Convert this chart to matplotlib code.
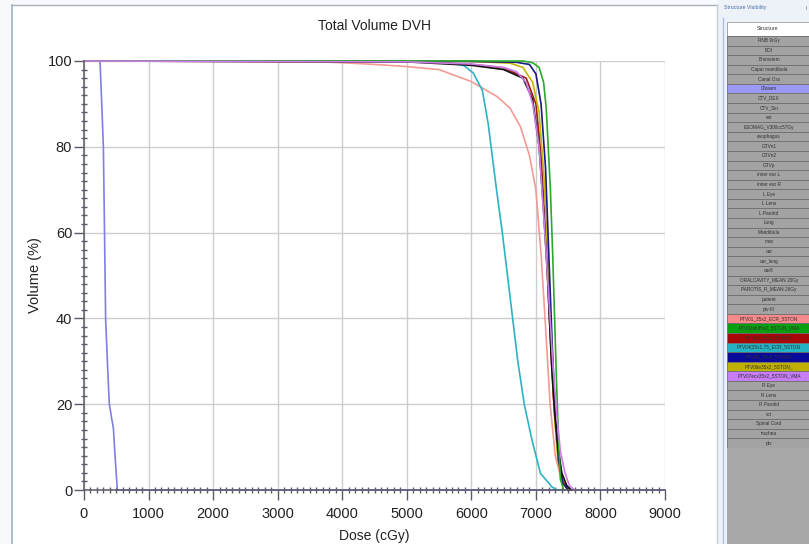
import matplotlib
matplotlib.use("Agg")
import matplotlib.pyplot as plt
from matplotlib.ticker import MultipleLocator
from matplotlib.patches import Rectangle

plt.rcParams['font.family'] = ['Liberation Sans', 'DejaVu Sans']

# ---------------- data ----------------
chiasm_dose = [0, 248, 275, 300, 318, 335, 365, 392, 415, 430, 455, 485, 517, 9000]
chiasm_vol = [100, 100, 90, 80, 60, 40, 29, 20, 18, 16.5, 14.5, 7, 0, 0]

salmon_dose = [0, 3500, 4000, 4500, 5000, 5500, 6000, 6400, 6600, 6760, 6900, 7000, 7080, 7150, 7220, 7300, 7400, 7500]
salmon_vol = [100, 99.9, 99.6, 99.2, 98.7, 98.0, 95.2, 91.7, 89.0, 84.7, 78, 70, 55, 38, 20, 8, 2, 0]

cyan_dose = [0, 5500, 5880, 6030, 6170, 6260, 6390, 6480, 6560, 6640, 6720, 6820, 6940, 7070, 7250, 7330]
cyan_vol = [100, 99.9, 99.0, 97.2, 93.2, 85.5, 70, 60, 50, 40, 30, 20, 11.6, 3.9, 0.7, 0]

black_dose = [0, 5000, 6000, 6500, 6800, 6950, 7050, 7120, 7180, 7240, 7290, 7330, 7400, 7480, 7550]
black_vol = [100, 99.8, 99.0, 98.0, 96, 91, 80, 65, 50, 30, 18, 11.6, 4, 1, 0]

darkred_dose = [0, 5200, 6000, 6500, 6850, 7000, 7080, 7150, 7210, 7270, 7330, 7420, 7520]
darkred_vol = [100, 99.8, 99.2, 98.4, 96, 90, 78, 60, 40, 22, 10, 2, 0]

navy_dose = [0, 6000, 6700, 6900, 7000, 7080, 7150, 7200, 7250, 7300, 7350, 7420, 7500]
navy_vol = [100, 99.9, 99.7, 99.2, 97, 90, 75, 55, 35, 18, 7, 1.5, 0]

olive_dose = [0, 6000, 6600, 6800, 6950, 7050, 7130, 7190, 7240, 7290, 7340, 7420, 7500]
olive_vol = [100, 99.9, 99.5, 98.5, 95, 88, 72, 52, 33, 17, 7, 1.5, 0]

green_dose = [0, 6800, 6950, 7050, 7120, 7160, 7225, 7260, 7290, 7320, 7350, 7380, 7430]
green_vol = [100, 100, 99.6, 98.5, 95, 89, 70, 55, 40, 25, 12, 2.5, 0]

violet_dose = [0, 5000, 6000, 6500, 6700, 6850, 6950, 7050, 7130, 7200, 7260, 7320, 7380, 7450, 7520, 7600]
violet_vol = [100, 99.8, 99.3, 98.5, 97.5, 95, 90, 80, 62, 45, 30, 18, 9, 4, 1, 0]

structures = ["RNB 9rGy", "BOI", "Brainstem", "Caput mandibula", "Canal Ora", "Chiasm",
              "CTV_DEX", "CTV_Sin", "ext", "ESOMAG_V300cc57Gy", "esophagus", "GTVn1",
              "GTVn2", "GTVp", "inner ear L", "inner ear R", "L Eye", "L Lens", "L Parotid",
              "Lung", "Mandibula", "max", "oar", "oar_lung", "oar8",
              "ORALCAVITY_MEAN 20Gy", "PAROTIS_R_MEAN 26Gy", "patient", "ptv-III",
              "PTV01_35x2_ECR_5STON", "PTV02ab35x2_5STON_VMA", "PTV03_35x2_5STON",
              "PTV04(35x1.75_ECR_5STON", "PTV05_35x2_5STON", "PTV06e35x2_5STON_",
              "PTV07ecx35x2_5STON_VMA", "R Eye", "R Lens", "R Parotid", "scr",
              "Spinal Cord", "trachea", "ptv"]
row_colors = {"Chiasm": "#9a9af6", "PTV01_35x2_ECR_5STON": "#f78a8a",
              "PTV02ab35x2_5STON_VMA": "#0aa010", "PTV03_35x2_5STON": "#a80808",
              "PTV04(35x1.75_ECR_5STON": "#22b4c4", "PTV05_35x2_5STON": "#0a0a9a",
              "PTV06e35x2_5STON_": "#bdb000", "PTV07ecx35x2_5STON_VMA": "#c77df5"}

# ---------------- figure ----------------
W, H = 809, 544
fig = plt.figure(figsize=(W / 100, H / 100), dpi=100, facecolor="white")

# background / screenshot chrome in pixel coordinates
bg = fig.add_axes([0, 0, 1, 1], zorder=0)
bg.set_xlim(0, W)
bg.set_ylim(H, 0)
bg.axis("off")
bg.add_patch(Rectangle((0, 0), W, H, facecolor="#f7f9fc", edgecolor="none"))
bg.add_patch(Rectangle((12, 5), 705, H, facecolor="white", edgecolor="none"))
bg.plot([12, 12], [5, H], color="#9fb2cc", lw=1.2)
bg.plot([12, 717], [5, 5], color="#a8b0ba", lw=1.0)
bg.plot([717, 717], [5, H], color="#c4ccd6", lw=1.0)

# side panel
bg.add_patch(Rectangle((718, 0), W - 718, H, facecolor="#edf2f9", edgecolor="none"))
bg.plot([723, 723], [18, H], color="#aac2e2", lw=1.0)
bg.text(724, 8, "Structure Visibility", fontsize=3.8, color="#4a6aa8", va="center", ha="left")
bg.text(806, 8, "I", fontsize=3.8, color="#4a6aa8", va="center", ha="left")
bg.add_patch(Rectangle((727, 22), 90, 14, facecolor="white", edgecolor="#9a9a9a", lw=0.6))
bg.text(768, 29, "Structure", fontsize=3.8, color="#333333", va="center", ha="center")
row_h = 9.58
y0 = 36
for i, name in enumerate(structures):
    y = y0 + i * row_h
    fc = row_colors.get(name, "#a3a3a3")
    bg.add_patch(Rectangle((727, y), 90, row_h, facecolor=fc, edgecolor="#6e6e6e", lw=0.6))
    bg.text(769, y + row_h / 2, name, fontsize=3.4, color="#303030", va="center", ha="center", clip_on=True)
yend = y0 + len(structures) * row_h
bg.add_patch(Rectangle((727, yend), 90, H - yend, facecolor="#a8a8a8", edgecolor="none"))

# main DVH axes
ax = fig.add_axes([84 / W, (H - 490) / H, (665 - 84) / W, (490 - 61) / H], zorder=2)
ax.set_facecolor("none")

series = [
    (chiasm_dose, chiasm_vol, "#7f7fe6"),
    (salmon_dose, salmon_vol, "#f29a94"),
    (cyan_dose, cyan_vol, "#2cb3c2"),
    (darkred_dose, darkred_vol, "#a01818"),
    (olive_dose, olive_vol, "#c9b300"),
    (navy_dose, navy_vol, "#1a1a80"),
    (black_dose, black_vol, "#111111"),
    (green_dose, green_vol, "#2aaa2a"),
    (violet_dose, violet_vol, "#cc7ee6"),
]
for d, v, c in series:
    ax.plot(d, v, color=c, lw=1.2, solid_joinstyle="round", clip_on=False, zorder=3)

ax.set_xlim(0, 9000)
ax.set_ylim(0, 100)
ax.xaxis.set_major_locator(MultipleLocator(1000))
ax.xaxis.set_minor_locator(MultipleLocator(100))
ax.yaxis.set_major_locator(MultipleLocator(20))
ax.yaxis.set_minor_locator(MultipleLocator(2))
ax.grid(which="major", color="#cdcdcd", lw=1.0, zorder=0)
for s in ["top", "right"]:
    ax.spines[s].set_visible(False)
for s in ["left", "bottom"]:
    ax.spines[s].set_color("#5a5a68")
    ax.spines[s].set_linewidth(1.1)
    ax.spines[s].set_zorder(4)
ax.tick_params(which="major", direction="out", length=7, width=1, color="#5a5a68",
               labelsize=10.5, labelcolor="#222222")
ax.tick_params(axis="x", which="major", pad=5)
ax.tick_params(axis="y", which="major", pad=1.5)
ax.tick_params(which="minor", direction="inout", length=4.5, width=1, color="#5a5a68")
ax.set_xlabel("Dose (cGy)", fontsize=10, color="#222222", labelpad=6)
ax.set_ylabel("Volume (%)", fontsize=10.5, color="#222222", labelpad=4)
ax.set_title("Total Volume DVH", fontsize=10, color="#222222", pad=22)

fig.savefig("out.png", dpi=100, facecolor=fig.get_facecolor())
